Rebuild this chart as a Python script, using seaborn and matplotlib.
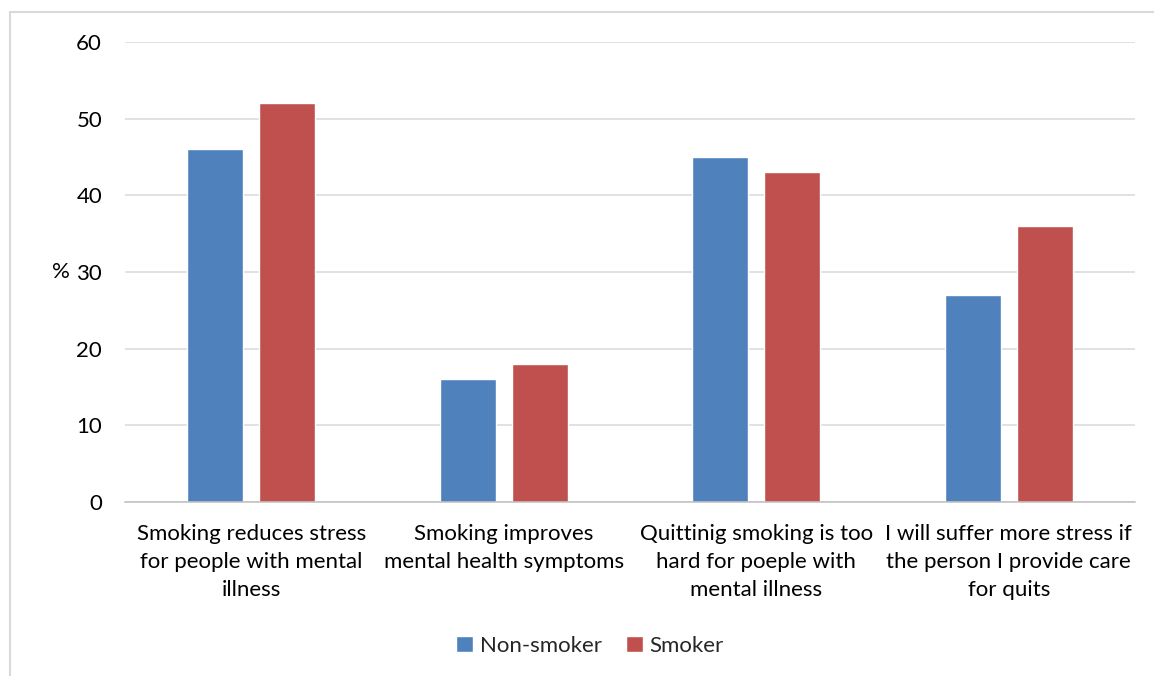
import matplotlib
matplotlib.use("Agg")
import matplotlib.pyplot as plt
from matplotlib.lines import Line2D
import seaborn as sns
import pandas as pd

categories = [
    "Smoking reduces stress\nfor people with mental\nillness",
    "Smoking improves\nmental health symptoms",
    "Quittinig smoking is too\nhard for poeple with\nmental illness",
    "I will suffer more stress if\nthe person I provide care\nfor quits",
]
series_names = ["Non-smoker", "Smoker"]
non_smoker = [46, 16, 45, 27]
smoker = [52, 18, 43, 36]
y_ticks = [0, 10, 20, 30, 40, 50, 60]
colors = ["#4F81BD", "#C0504D"]

df = pd.DataFrame({
    "category": categories * 2,
    "group": [series_names[0]] * 4 + [series_names[1]] * 4,
    "value": non_smoker + smoker,
})

sns.set_theme(style="white")
plt.rcParams["font.family"] = ["Lato", "DejaVu Sans"]

W, H = 1154, 676
fig = plt.figure(figsize=(W / 100, H / 100), dpi=100)
ax = fig.add_axes([125 / W, 1 - 502 / H, (1135 - 125) / W, (502 - 42) / H])

sns.barplot(data=df, x="category", y="value", hue="group", order=categories,
            hue_order=series_names, palette=colors, width=0.57, gap=0.22,
            saturation=1, ax=ax, legend=True)

fs = 16
ax.set_ylim(0, 60)
ax.set_yticks(y_ticks)
ax.yaxis.grid(True, color="#D9D9D9", linewidth=1.1)
ax.set_axisbelow(True)
for s in ["top", "right", "left"]:
    ax.spines[s].set_visible(False)
ax.spines["bottom"].set_color("#BFBFBF")
ax.spines["bottom"].set_linewidth(1.1)
ax.tick_params(axis="y", length=0, pad=16.5, labelsize=fs, labelcolor="black")
ax.tick_params(axis="x", length=0, pad=16, labelsize=fs, labelcolor="black")
for lbl in ax.get_xticklabels():
    lbl.set_linespacing(1.5)
ax.set_xlabel("")
ax.set_ylabel("%", rotation=0, fontsize=fs, color="black", labelpad=11, va="center")

ax.legend(loc="center", bbox_to_anchor=(590 / W, 1 - 646 / H),
          bbox_transform=fig.transFigure, ncol=2, frameon=False,
          fontsize=fs, handlelength=0.75, handleheight=0.75,
          handletextpad=0.3, columnspacing=1.1)

# chart area frame
frame_color = "#D9D9D9"
fig.add_artist(Line2D([10 / W, 10 / W], [0, 1 - 12 / H], transform=fig.transFigure,
                      color=frame_color, linewidth=1.5))
fig.add_artist(Line2D([10 / W, 1], [1 - 12 / H, 1 - 12 / H], transform=fig.transFigure,
                      color=frame_color, linewidth=1.5))

fig.savefig("out.png", dpi=100, facecolor="white")
